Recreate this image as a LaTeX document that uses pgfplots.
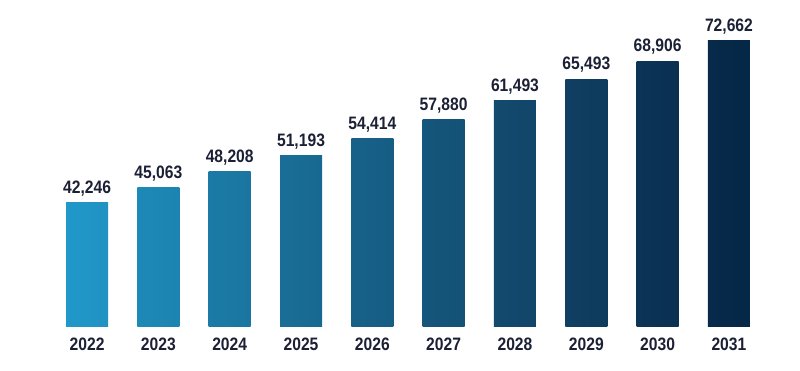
\documentclass[border=0pt]{standalone}
\usepackage{pgfplots}
\pgfplotsset{compat=1.18}
\usepackage{fontspec}
\setmainfont{Liberation Sans}[FakeStretch=0.87]
\definecolor{txt}{HTML}{1B2035}
\definecolor{c0}{HTML}{2198CA}
\definecolor{c1}{HTML}{1D89B7}
\definecolor{c2}{HTML}{1B7BA6}
\definecolor{c3}{HTML}{196E97}
\definecolor{c4}{HTML}{176189}
\definecolor{c5}{HTML}{15567C}
\definecolor{c6}{HTML}{134A6E}
\definecolor{c7}{HTML}{0F3F62}
\definecolor{c8}{HTML}{0B3456}
\definecolor{c9}{HTML}{072A4A}
\definecolor{c10}{HTML}{052442}
\begin{document}
\begin{tikzpicture}
\begin{axis}[
  name=ax,
  scale only axis,
  width=378pt, height=163pt,
  xmin=-0.80, xmax=9.80,
  ymin=19150, ymax=80360,
  axis x line*=bottom,
  hide y axis,
  axis line style={draw=none},
  major tick length=0pt,
  ybar, bar width=21pt, bar shift=0pt,
  xtick={0,...,9},
  xticklabels={2022,2023,2024,2025,2026,2027,2028,2029,2030,2031},
  xticklabel style={font=\fontsize{9pt}{10pt}\selectfont\bfseries, text=txt, inner sep=0pt, yshift=-6pt},
  ytick=\empty,
  clip=false,
  nodes near coords,
  every node near coord/.append style={font=\fontsize{9pt}{10pt}\selectfont\bfseries, text=txt, inner sep=3pt},
  /pgf/number format/1000 sep={,},
  /pgf/number format/assume math mode=true,
]
\addplot[draw=none, left color=c0, right color=c0!60!c1] coordinates {(0,42246)};
\addplot[draw=none, left color=c1, right color=c1!60!c2] coordinates {(1,45063)};
\addplot[draw=none, left color=c2, right color=c2!60!c3] coordinates {(2,48208)};
\addplot[draw=none, left color=c3, right color=c3!60!c4] coordinates {(3,51193)};
\addplot[draw=none, left color=c4, right color=c4!60!c5] coordinates {(4,54414)};
\addplot[draw=none, left color=c5, right color=c5!60!c6] coordinates {(5,57880)};
\addplot[draw=none, left color=c6, right color=c6!60!c7] coordinates {(6,61493)};
\addplot[draw=none, left color=c7, right color=c7!60!c8] coordinates {(7,65493)};
\addplot[draw=none, left color=c8, right color=c8!60!c9] coordinates {(8,68906)};
\addplot[draw=none, left color=c9, right color=c9!60!c10] coordinates {(9,72662)};
\end{axis}
\pgfresetboundingbox
\path[use as bounding box] ([shift={(-15pt,-22pt)}]ax.south west) rectangle ([shift={(7pt,0pt)}]ax.north east);
\end{tikzpicture}
\end{document}
